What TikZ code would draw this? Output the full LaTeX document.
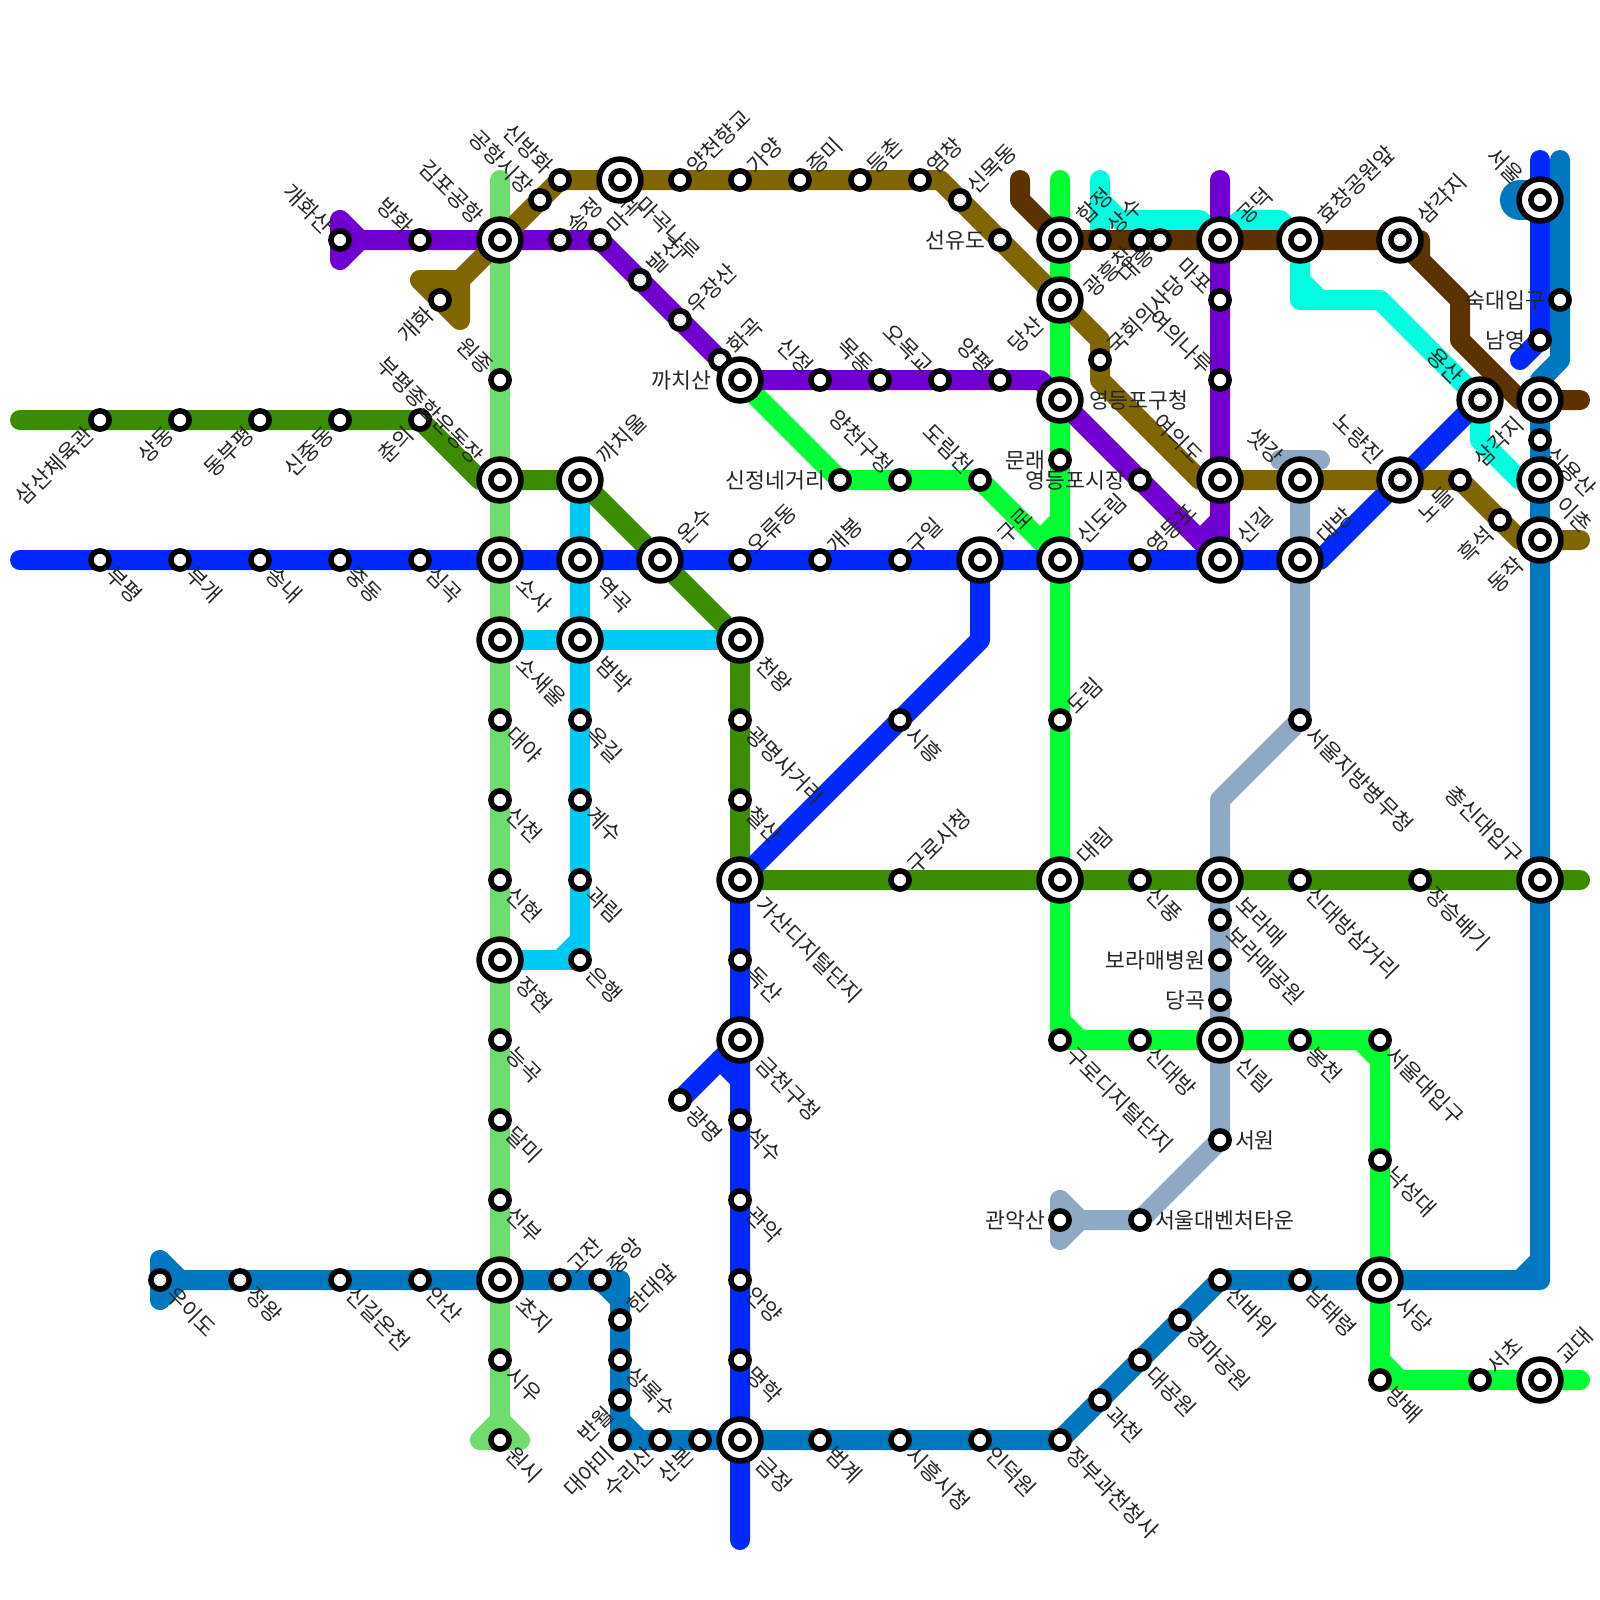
\documentclass[tikz,border=0pt]{standalone}
\usepackage{fontspec}
\setmainfont{Noto Sans CJK KR}
\definecolor{cOG}{HTML}{3B8C00}
\definecolor{cBL}{HTML}{0029FF}
\definecolor{cLG}{HTML}{6EDC6E}
\definecolor{cCY}{HTML}{00C8F5}
\definecolor{cPU}{HTML}{7000D0}
\definecolor{cGR}{HTML}{00FF33}
\definecolor{cAQ}{HTML}{00FFE0}
\definecolor{cAZ}{HTML}{0078C0}
\definecolor{cGY}{HTML}{8FA8C4}
\definecolor{cBR}{HTML}{5C3200}
\definecolor{cOL}{HTML}{806600}
\tikzset{
  metro/.style={draw=#1,line width=20pt,line cap=round,line join=round},
  metrofill/.style={draw=#1,fill=#1,line width=20pt,line cap=round,line join=round},
  stn/.style={circle,draw=black,fill=white,line width=5.6pt,inner sep=0pt,outer sep=0pt,minimum size=18.2pt},
  ring/.style={circle,draw=black,fill=white,line width=5.6pt,inner sep=0pt,outer sep=0pt,minimum size=41.8pt},
  lbl/.style={inner sep=0pt,outer sep=0pt,text=black!85,font=\fontsize{21.6pt}{21.6pt}\selectfont,text height=16.5pt,text depth=0pt},
  dLR/.style={shift={(-45:#1)},rotate=-45,anchor=west},
  dUR/.style={shift={(45:#1)},rotate=45,anchor=west},
  dUL/.style={shift={(135:#1)},rotate=-45,anchor=east},
  dLL/.style={shift={(225:#1)},rotate=45,anchor=east},
  dR/.style={shift={(0:#1)},anchor=west},
  dL/.style={shift={(180:#1)},anchor=east}
}
\newcommand\St[4]{\node[stn] (s#1-#2) at (p#1-#2) {};\node[lbl,#3=15pt] (t#1-#2) at (p#1-#2) {#4};}
\newcommand\Ic[4]{\node[ring] (r#1-#2) at (p#1-#2) {};\node[stn] (s#1-#2) at (p#1-#2) {};\node[lbl,#3=29pt] (t#1-#2) at (p#1-#2) {#4};}
\begin{document}
\begin{tikzpicture}
\fill[white] (0pt,0pt) rectangle (1600pt,-1600pt);
\useasboundingbox (0pt,0pt) rectangle (1600pt,-1600pt);
\foreach \x in {1,...,79}{\foreach \y in {8,...,77}{\coordinate (p\x-\y) at (\x*20pt,-\y*20pt);}}
% --- lines
\draw[metro=cAQ] (p55-9)--(p55-12);
\draw[metro=cAQ] (p55-10)--(p56-11)--(p60-11)--(p61-12)--(p62-11)--(p64-11)--(p65-12)--(p65-15)--(p69-15)--(p74-20)--(p74-22)--(p76-24)--(p77-24);
\draw[metro=cAQ] (p65-14)--(p66-15);
\draw[metrofill=cLG] (p25-71)--(p24-72)--(p26-72)--cycle;
\draw[metro=cLG] (p25-9)--(p25-71);
\draw[metro=cCY] (p29-24)--(p29-48)--(p25-48);
\draw[metro=cCY] (p28-48)--(p29-47);
\draw[metro=cCY] (p25-32)--(p37-32);
\draw[metrofill=cAZ] (p8-63)--(p9-64)--(p8-65)--cycle;
\draw[metro=cAZ] (p8-64)--(p31-64)--(p31-72)--(p53-72)--(p61-64)--(p77-64)--(p77-19)--(p78-18)--(p78-8);
\draw[metro=cAZ] (p30-64)--(p31-65);
\draw[metro=cAZ] (p31-71)--(p32-72);
\draw[metro=cAZ] (p76-64)--(p77-63);
\draw[cAZ,line width=40pt,line cap=round] (p76-10)--(p77-10);
\draw[metrofill=cGY] (p53-60)--(p54-61)--(p53-62)--cycle;
\draw[metro=cGY] (p64-23)--(p66-23);
\draw[metro=cGY] (p65-23)--(p65-36)--(p61-40)--(p61-57)--(p57-61)--(p54-61);
\draw[metro=cGR] (p53-9)--(p53-51)--(p54-52)--(p68-52)--(p69-53)--(p69-68)--(p70-69)--(p79-69);
\draw[metro=cGR] (p53-51)--(p53-52)--(p54-52);
\draw[metro=cGR] (p68-52)--(p69-52)--(p69-53);
\draw[metro=cGR] (p69-68)--(p69-69)--(p70-69);
\draw[metro=cGR] (p37-19)--(p42-24)--(p49-24)--(p53-28);
\draw[metro=cGR] (p53-26)--(p52-27);
\draw[metro=cOG] (p1-21)--(p21-21)--(p24-24)--(p29-24)--(p37-32)--(p37-44)--(p79-44);
\draw[metro=cBL] (p1-28)--(p66-28)--(p74-20);
\draw[metro=cBL] (p49-28)--(p49-32)--(p37-44)--(p37-77);
\draw[metro=cBL] (p34-55)--(p37-52);
\draw[metro=cBL] (p36-53)--(p37-54);
\draw[metro=cBL] (p77-8)--(p77-17)--(p76-18);
\draw[metrofill=cPU] (p17-11)--(p18-12)--(p17-13)--cycle;
\draw[metro=cPU] (p17-12)--(p30-12)--(p37-19)--(p52-19)--(p53-20)--(p61-28);
\draw[metro=cPU] (p61-9)--(p61-26)--(p60-27);
\draw[metro=cPU] (p61-26)--(p61-28);
\draw[metrofill=cOL] (p21-14)--(p23-16)--(p23-14)--cycle;
\draw[metro=cOL] (p23-14)--(p28-9)--(p47-9)--(p55-17)--(p55-19)--(p60-24)--(p73-24)--(p76-27)--(p79-27);
\draw[metro=cBR] (p51-9)--(p51-10)--(p53-12)--(p71-12)--(p71-13)--(p73-15)--(p73-17)--(p76-20)--(p79-20);
\draw[metro=cBR] (p70-12)--(p71-13);
% --- stations
\St{17}{12}{dUL}{개화산}
\St{21}{12}{dUL}{방화}
\Ic{25}{12}{dUL}{김포공항}
\St{22}{15}{dLL}{개화}
\St{27}{10}{dUL}{공항시장}
\St{28}{9}{dUL}{신방화}
\St{28}{12}{dUR}{송정}
\St{30}{12}{dUR}{마곡}
\Ic{31}{9}{dLR}{마곡나루}
\St{34}{9}{dUR}{양천향교}
\St{37}{9}{dUR}{가양}
\St{40}{9}{dUR}{증미}
\St{43}{9}{dUR}{등촌}
\St{46}{9}{dUR}{염창}
\St{48}{10}{dUR}{신목동}
\St{50}{12}{dL}{선유도}
\Ic{53}{12}{dUR}{합정}
\St{55}{12}{dUR}{상수}
\St{57}{12}{dLL}{광흥창}
\St{58}{12}{dLL}{대흥}
\Ic{61}{12}{dUR}{공덕}
\Ic{65}{12}{dUR}{효창공원앞}
\Ic{70}{12}{dUR}{삼각지}
\Ic{77}{10}{dUL}{서울}
\St{78}{15}{dL}{숙대입구}
\St{77}{17}{dL}{남영}
\Ic{53}{15}{dLL}{당산}
\St{61}{15}{dUL}{마포}
\St{32}{14}{dUR}{발산}
\St{34}{16}{dUR}{우장산}
\St{36}{18}{dUR}{화곡}
\Ic{37}{19}{dL}{까치산}
\St{41}{19}{dUL}{신정}
\St{44}{19}{dUL}{목동}
\St{47}{19}{dUL}{오목교}
\St{50}{19}{dUL}{양평}
\St{55}{18}{dUR}{국회의사당}
\St{61}{19}{dUL}{여의나루}
\Ic{53}{20}{dR}{영등포구청}
\Ic{74}{20}{dUL}{용산}
\Ic{77}{20}{dLL}{삼각지}
\St{77}{22}{dLR}{신용산}
\St{53}{23}{dL}{문래}
\St{5}{21}{dLL}{삼산체육관}
\St{9}{21}{dLL}{상동}
\St{13}{21}{dLL}{동부평}
\St{17}{21}{dLL}{신중동}
\St{21}{21}{dLL}{춘의}
\St{25}{19}{dUL}{원종}
\Ic{25}{24}{dUL}{부평종합운동장}
\Ic{29}{24}{dUR}{까치울}
\St{42}{24}{dL}{신정네거리}
\St{45}{24}{dUL}{양천구청}
\St{49}{24}{dUL}{도림천}
\St{57}{24}{dL}{영등포시장}
\Ic{61}{24}{dUL}{여의도}
\Ic{65}{24}{dUL}{샛강}
\Ic{70}{24}{dUL}{노량진}
\St{73}{24}{dLL}{노들}
\St{75}{26}{dLL}{흑석}
\Ic{77}{24}{dLR}{이촌}
\Ic{77}{27}{dLL}{동작}
\St{5}{28}{dLR}{부평}
\St{9}{28}{dLR}{부개}
\St{13}{28}{dLR}{송내}
\St{17}{28}{dLR}{중동}
\St{21}{28}{dLR}{심곡}
\Ic{25}{28}{dLR}{소사}
\Ic{29}{28}{dLR}{역곡}
\Ic{33}{28}{dUR}{온수}
\St{37}{28}{dUR}{오류동}
\St{41}{28}{dUR}{개봉}
\St{45}{28}{dUR}{구일}
\Ic{49}{28}{dUR}{구로}
\Ic{53}{28}{dUR}{신도림}
\St{57}{28}{dUR}{영등포}
\Ic{61}{28}{dUR}{신길}
\Ic{65}{28}{dUR}{대방}
\Ic{25}{32}{dLR}{소새울}
\Ic{29}{32}{dLR}{범박}
\Ic{37}{32}{dLR}{천왕}
\St{25}{36}{dLR}{대야}
\St{29}{36}{dLR}{옥길}
\St{37}{36}{dLR}{광명사거리}
\St{45}{36}{dLR}{시흥}
\St{53}{36}{dUR}{도림}
\St{65}{36}{dLR}{서울지방병무청}
\St{25}{40}{dLR}{신천}
\St{29}{40}{dLR}{계수}
\St{37}{40}{dLR}{철산}
\St{25}{44}{dLR}{신현}
\St{29}{44}{dLR}{과림}
\Ic{37}{44}{dLR}{가산디지털단지}
\St{45}{44}{dUR}{구로시청}
\Ic{53}{44}{dUR}{대림}
\St{57}{44}{dLR}{신풍}
\Ic{61}{44}{dLR}{보라매}
\St{65}{44}{dLR}{신대방삼거리}
\St{71}{44}{dLR}{장승배기}
\Ic{77}{44}{dUL}{총신대입구}
\St{61}{46}{dLR}{보라매공원}
\Ic{25}{48}{dLR}{장현}
\St{29}{48}{dLR}{은행}
\St{37}{48}{dLR}{독산}
\St{61}{48}{dL}{보라매병원}
\St{61}{50}{dL}{당곡}
\St{25}{52}{dLR}{능곡}
\Ic{37}{52}{dLR}{금천구청}
\St{53}{52}{dLR}{구로디지털단지}
\St{57}{52}{dLR}{신대방}
\Ic{61}{52}{dLR}{신림}
\St{65}{52}{dLR}{봉천}
\St{69}{52}{dLR}{서울대입구}
\St{34}{55}{dLR}{광명}
\St{25}{56}{dLR}{달미}
\St{37}{56}{dLR}{석수}
\St{61}{57}{dR}{서원}
\St{69}{58}{dLR}{낙성대}
\St{25}{60}{dLR}{선부}
\St{37}{60}{dLR}{관악}
\St{53}{61}{dL}{관악산}
\St{57}{61}{dR}{서울대벤처타운}
\St{8}{64}{dLR}{우이도}
\St{12}{64}{dLR}{정왕}
\St{17}{64}{dLR}{신길온천}
\St{21}{64}{dLR}{안산}
\Ic{25}{64}{dLR}{초지}
\St{28}{64}{dUR}{고잔}
\St{30}{64}{dUR}{중앙}
\St{37}{64}{dLR}{안양}
\St{61}{64}{dLR}{선바위}
\St{65}{64}{dLR}{남태령}
\Ic{69}{64}{dLR}{사당}
\St{31}{66}{dUR}{한대앞}
\St{59}{66}{dLR}{경마공원}
\St{25}{68}{dLR}{시우}
\St{31}{68}{dLR}{상록수}
\St{37}{68}{dLR}{명학}
\St{57}{68}{dLR}{대공원}
\St{69}{69}{dLR}{방배}
\St{74}{69}{dUR}{서초}
\Ic{77}{69}{dUR}{교대}
\St{31}{70}{dLL}{반월}
\St{55}{70}{dLR}{과천}
\St{25}{72}{dLR}{원시}
\St{31}{72}{dLL}{대야미}
\St{33}{72}{dLL}{수리산}
\St{35}{72}{dLL}{산본}
\Ic{37}{72}{dLR}{금정}
\St{41}{72}{dLR}{범계}
\St{45}{72}{dLR}{시흥시청}
\St{49}{72}{dLR}{인덕원}
\St{53}{72}{dLR}{정부과천청사}
\end{tikzpicture}
\end{document}
